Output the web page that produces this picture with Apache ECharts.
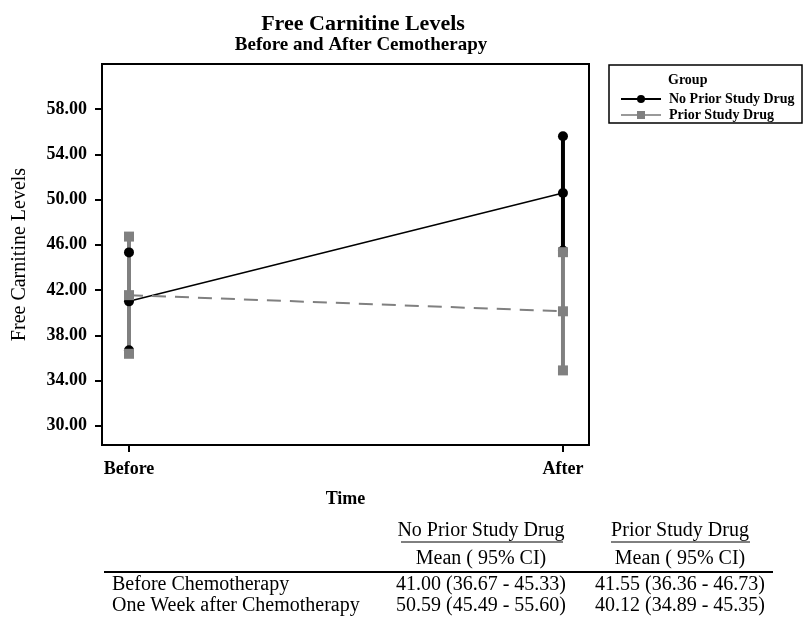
<!DOCTYPE html>
<html>
<head>
<meta charset="utf-8">
<script src="https://cdn.jsdelivr.net/npm/echarts@6/dist/echarts.min.js"></script>
<style>html,body{margin:0;padding:0;background:#fff;}#chart{width:804px;height:622px;}</style>
</head>
<body>
<div id="chart"></div>
<script>
// ---- data ----
const categories = ['Before', 'After'];
const groups = ['No Prior Study Drug', 'Prior Study Drug'];
const noPriorMean = [41.00, 50.59];
const noPriorLow = [36.67, 45.49];
const noPriorHigh = [45.33, 55.60];
const priorMean = [41.55, 40.12];
const priorLow = [36.36, 34.89];
const priorHigh = [46.73, 45.35];
const yTicks = [30, 34, 38, 42, 46, 50, 54, 58];
const tableRowLabels = ['Before Chemotherapy', 'One Week after Chemotherapy'];
const tableSubHeader = 'Mean ( 95% CI)';

// ---- styles ----
const SERIF = '"Liberation Serif", "Times New Roman", serif';
const BLACK = '#000000';
const GRAY = '#808080';

function fmt(m, l, h) { return m.toFixed(2) + ' (' + l.toFixed(2) + ' - ' + h.toFixed(2) + ')'; }

function errorBar(i, low, high, color, symbol, name) {
  return {
    type: 'line', name: name + ' CI ' + i, silent: true,
    data: [[i, low[i]], [i, high[i]]],
    symbol: symbol, symbolSize: 10,
    showSymbol: true,
    lineStyle: { color: color, width: 4 },
    itemStyle: { color: color },
    animation: false
  };
}

const series = [];
series.push(errorBar(0, noPriorLow, noPriorHigh, BLACK, 'circle', groups[0]));
series.push(errorBar(1, noPriorLow, noPriorHigh, BLACK, 'circle', groups[0]));
series.push({
  type: 'line', name: groups[0],
  data: categories.map((c, i) => [i, noPriorMean[i]]),
  symbol: 'circle', symbolSize: 10,
  lineStyle: { color: BLACK, width: 1.5 },
  itemStyle: { color: BLACK }, animation: false
});
series.push(errorBar(0, priorLow, priorHigh, GRAY, 'rect', groups[1]));
series.push(errorBar(1, priorLow, priorHigh, GRAY, 'rect', groups[1]));
series.push({
  type: 'line', name: groups[1],
  data: categories.map((c, i) => [i, priorMean[i]]),
  symbol: 'rect', symbolSize: 10,
  lineStyle: { color: GRAY, width: 2, type: [14, 9] },
  itemStyle: { color: GRAY }, animation: false
});

const col1 = 481, col2 = 680;
const rowY = [585, 606];
const graphic = [
  // legend box
  { type: 'rect', shape: { x: 609, y: 65, width: 193, height: 58 }, style: { fill: 'none', stroke: BLACK, lineWidth: 1.5 } },
  { type: 'text', x: 668, y: 80, style: { text: 'Group', font: 'bold 14px ' + SERIF, fill: BLACK, verticalAlign: 'middle' } },
  // table headers
  { type: 'text', x: col1, y: 531, style: { text: groups[0], font: '20px ' + SERIF, fill: BLACK, align: 'center', verticalAlign: 'middle' } },
  { type: 'text', x: col2, y: 531, style: { text: groups[1], font: '20px ' + SERIF, fill: BLACK, align: 'center', verticalAlign: 'middle' } },
  { type: 'line', shape: { x1: 401, y1: 542, x2: 563, y2: 542 }, style: { stroke: BLACK, lineWidth: 1 } },
  { type: 'line', shape: { x1: 611, y1: 542, x2: 750, y2: 542 }, style: { stroke: BLACK, lineWidth: 1 } },
  { type: 'text', x: col1, y: 558.5, style: { text: tableSubHeader, font: '20px ' + SERIF, fill: BLACK, align: 'center', verticalAlign: 'middle' } },
  { type: 'text', x: col2, y: 558.5, style: { text: tableSubHeader, font: '20px ' + SERIF, fill: BLACK, align: 'center', verticalAlign: 'middle' } },
  { type: 'line', shape: { x1: 104, y1: 572, x2: 773, y2: 572 }, style: { stroke: BLACK, lineWidth: 2 } }
];
tableRowLabels.forEach((lab, i) => {
  graphic.push({ type: 'text', x: 112, y: rowY[i], style: { text: lab, font: '20px ' + SERIF, fill: BLACK, align: 'left', verticalAlign: 'middle' } });
  graphic.push({ type: 'text', x: col1, y: rowY[i], style: { text: fmt(noPriorMean[i], noPriorLow[i], noPriorHigh[i]), font: '20px ' + SERIF, fill: BLACK, align: 'center', verticalAlign: 'middle' } });
  graphic.push({ type: 'text', x: col2, y: rowY[i], style: { text: fmt(priorMean[i], priorLow[i], priorHigh[i]), font: '20px ' + SERIF, fill: BLACK, align: 'center', verticalAlign: 'middle' } });
});

const option = {
  backgroundColor: '#ffffff',
  animation: false,
  title: [
    { text: 'Free Carnitine Levels', left: 358, top: 8, textAlign: 'center',
      textStyle: { fontFamily: SERIF, fontWeight: 'bold', fontSize: 22, color: BLACK } },
    { text: 'Before and After Cemotherapy', left: 356, top: 31, textAlign: 'center',
      textStyle: { fontFamily: SERIF, fontWeight: 'bold', fontSize: 19, color: BLACK } }
  ],
  legend: {
    orient: 'vertical', left: 615, top: 87, itemWidth: 40, itemHeight: 10, itemGap: 2,
    data: [
      { name: groups[0], lineStyle: { type: 'solid', width: 2, color: BLACK } },
      { name: groups[1], lineStyle: { type: 'solid', width: 2, color: '#999999' } }
    ],
    textStyle: { fontFamily: SERIF, fontWeight: 'bold', fontSize: 14, color: BLACK, padding: [0, 0, 0, 3] },
    selectedMode: false
  },
  grid: { left: 102, right: 215, top: 64, bottom: 177, show: true, borderColor: BLACK, borderWidth: 2, backgroundColor: 'transparent' },
  xAxis: {
    type: 'value', min: -0.0622, max: 1.06,
    name: 'Time', nameLocation: 'middle', nameGap: 45,
    nameTextStyle: { fontFamily: SERIF, fontWeight: 'bold', fontSize: 18, color: BLACK },
    axisLine: { show: true, onZero: false, lineStyle: { color: BLACK, width: 2 } },
    axisTick: { show: true, customValues: [0, 1], length: 7, lineStyle: { color: BLACK, width: 2 } },
    axisLabel: { customValues: [0, 1], margin: 15, formatter: v => categories[Math.round(v)],
      fontFamily: SERIF, fontWeight: 'bold', fontSize: 18, color: BLACK },
    splitLine: { show: false }
  },
  yAxis: {
    type: 'value', min: 28.29, max: 62.0,
    name: 'Free Carnitine Levels', nameLocation: 'middle', nameGap: 72,
    nameTextStyle: { fontFamily: SERIF, fontSize: 20, color: BLACK },
    axisLine: { show: true, onZero: false, lineStyle: { color: BLACK, width: 2 } },
    axisTick: { show: true, customValues: yTicks, length: 7, lineStyle: { color: BLACK, width: 2 } },
    axisLabel: { customValues: yTicks, margin: 15, formatter: v => v.toFixed(2),
      fontFamily: SERIF, fontWeight: 'bold', fontSize: 18, color: BLACK },
    splitLine: { show: false }
  },
  series: series,
  graphic: graphic
};

const chart = echarts.init(document.getElementById('chart'), null, { renderer: 'canvas' });
chart.setOption(option);
</script>
</body>
</html>
